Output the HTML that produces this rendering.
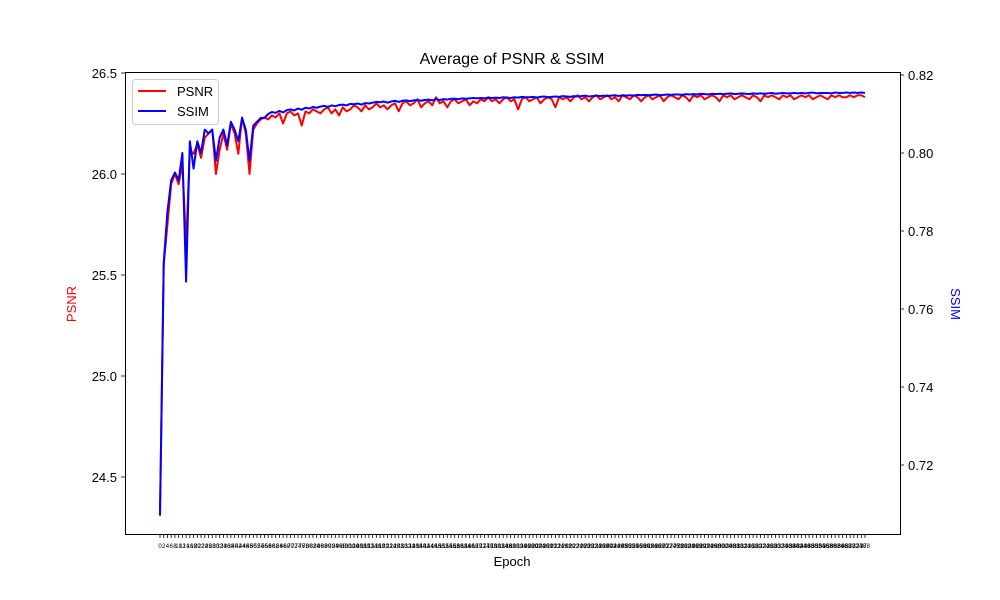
<!DOCTYPE html>
<html><head><meta charset="utf-8">
<style>
html,body{margin:0;padding:0;background:#fff;}
svg{display:block;font-family:"Liberation Sans","DejaVu Sans",sans-serif;}
</style></head>
<body>
<svg id="chart" width="1000" height="600" viewBox="0 0 1000 600">
  <rect x="0" y="0" width="1000" height="600" fill="#fff"/>
  <text x="512" y="64" text-anchor="middle" font-size="16">Average of PSNR &amp; SSIM</text>
  <g id="xticks"></g>
  <g id="yticksL"></g>
  <g id="yticksR"></g>
  <path id="psnrLine" fill="none" stroke="#ff0000" stroke-width="2" stroke-linejoin="round"/>
  <path id="ssimLine" fill="none" stroke="#0000ff" stroke-width="2" stroke-linejoin="round"/>
  <rect x="125.5" y="72.5" width="775" height="462" fill="none" stroke="#000" stroke-width="1"/>
  <text x="512" y="566" text-anchor="middle" font-size="13">Epoch</text>
  <text x="0" y="0" transform="translate(76,304) rotate(-90)" text-anchor="middle" font-size="13" fill="#ff0000">PSNR</text>
  <text x="0" y="0" transform="translate(951,304) rotate(90)" text-anchor="middle" font-size="13" fill="#0000ff">SSIM</text>
  <g>
    <rect x="132.5" y="79.5" width="86" height="45" rx="3" fill="#fff" fill-opacity="0.8" stroke="#cccccc"/>
    <line x1="138" y1="91" x2="166" y2="91" stroke="#ff0000" stroke-width="2"/>
    <text x="177" y="96" font-size="13">PSNR</text>
    <line x1="138" y1="111" x2="166" y2="111" stroke="#0000ff" stroke-width="2"/>
    <text x="177" y="116" font-size="13">SSIM</text>
  </g>
</svg>
<script>
const psnrHead = [24.32,25.55,25.75,25.95,26.0,25.95,26.05,25.65,26.12,26.1,26.15,26.08,26.18,26.2,26.22,26.0,26.12,26.2,26.12,26.25,26.2,26.1,26.28,26.2,26.0,26.22,26.25,26.27,26.28];
const psnrTail = [26.27,26.29,26.28,26.30,26.25,26.30,26.31,26.29,26.30,26.24,
26.31,26.30,26.32,26.31,26.30,26.32,26.33,26.30,26.32,26.29,
26.33,26.31,26.32,26.34,26.33,26.31,26.34,26.32,26.33,26.35,
26.33,26.34,26.32,26.34,26.35,26.31,26.35,26.36,26.34,26.35,
26.37,26.33,26.35,26.36,26.34,26.38,26.35,26.36,26.33,26.36,
26.37,26.35,26.36,26.37,26.34,26.36,26.35,26.37,26.36,26.38,
26.36,26.37,26.35,26.37,26.38,26.36,26.37,26.32,26.37,26.38,
26.36,26.37,26.38,26.35,26.37,26.38,26.37,26.33,26.38,26.37,
26.38,26.36,26.38,26.39,26.37,26.38,26.36,26.38,26.39,26.37,
26.38,26.39,26.37,26.38,26.36,26.39,26.38,26.37,26.39,26.38,
26.36,26.38,26.39,26.37,26.38,26.39,26.36,26.38,26.39,26.38,
26.37,26.39,26.38,26.36,26.39,26.38,26.39,26.37,26.38,26.39,
26.38,26.36,26.39,26.38,26.39,26.37,26.38,26.39,26.38,26.37,
26.39,26.38,26.36,26.39,26.38,26.39,26.38,26.37,26.39,26.38,
26.39,26.37,26.38,26.39,26.38,26.39,26.37,26.38,26.39,26.38,
26.37,26.39,26.38,26.39,26.38,26.38,26.39,26.38,26.39,26.39,26.38];
const ssimHead = [0.707,0.772,0.785,0.793,0.795,0.793,0.800,0.767,0.803,0.796,0.803,0.800,0.806,0.805,0.806,0.798,0.804,0.806,0.802,0.808,0.806,0.803,0.809,0.806,0.798,0.807,0.808,0.809,0.809];
const ssimTail = [.8100,.8105,.8103,.8108,.8104,.8110,.8112,.8109,.8114,.8111,
.8116,.8114,.8118,.8116,.8119,.8121,.8118,.8122,.8120,.8123,
.8124,.8122,.8126,.8125,.8127,.8124,.8128,.8127,.8129,.8131,
.8130,.8132,.8129,.8132,.8134,.8131,.8134,.8135,.8133,.8135,
.8136,.8134,.8136,.8137,.8135,.8138,.8136,.8138,.8137,.8139,
.8139,.8138,.8140,.8139,.8140,.8141,.8140,.8141,.8140,.8142,
.8141,.8142,.8141,.8143,.8142,.8141,.8143,.8142,.8144,.8143,
.8143,.8144,.8142,.8144,.8145,.8143,.8144,.8145,.8144,.8146,
.8145,.8144,.8146,.8145,.8146,.8147,.8145,.8146,.8147,.8146,
.8147,.8146,.8147,.8148,.8146,.8148,.8147,.8148,.8147,.8149,
.8148,.8149,.8148,.8149,.8150,.8148,.8149,.8150,.8149,.8150,
.8150,.8149,.8151,.8150,.8151,.8150,.8152,.8151,.8150,.8152,
.8151,.8152,.8151,.8152,.8153,.8151,.8152,.8153,.8152,.8151,
.8153,.8152,.8153,.8152,.8153,.8154,.8152,.8153,.8154,.8153,
.8153,.8154,.8153,.8154,.8153,.8154,.8155,.8153,.8154,.8154,
.8154,.8153,.8155,.8154,.8154,.8155,.8154,.8155,.8154,.8155,.8154];
const psnrTicks = [24.5,25.0,25.5,26.0,26.5];
const ssimTicks = [0.72,0.74,0.76,0.78,0.80,0.82];

const psnr = psnrHead.concat(psnrTail);
const ssim = ssimHead.concat(ssimTail);
const epochs = psnr.map((_, i) => i * 2);

const NS = 'http://www.w3.org/2000/svg';
const n = psnr.length;
function xPos(i){ return 160 + i * (705 / (n - 1)); }
function yL(v){ return 477 - (v - 24.5) * 202; }
function yR(v){ return 75 + (0.82 - v) * 3900; }

function mk(tag, attrs){ const e = document.createElementNS(NS, tag); for (const k in attrs) e.setAttribute(k, attrs[k]); return e; }

document.getElementById('psnrLine').setAttribute('d', psnr.map((v,i)=>(i?'L':'M')+xPos(i).toFixed(2)+' '+yL(v).toFixed(2)).join(' '));
document.getElementById('ssimLine').setAttribute('d', ssim.map((v,i)=>(i?'L':'M')+xPos(i).toFixed(2)+' '+yR(v).toFixed(2)).join(' '));

const gx = document.getElementById('xticks');
epochs.forEach((ep, i) => {
  const x = xPos(i);
  const t = mk('line', {x1:x, y1:534, x2:x, y2:538, stroke:'#000', 'stroke-width':0.8});
  
  
  gx.appendChild(t);
  const l = mk('text', {x:x, y:548, 'text-anchor':'middle', 'font-size':6});
  
  
  l.textContent = ep;
  gx.appendChild(l);
});

const gl = document.getElementById('yticksL');
psnrTicks.forEach(v => {
  const y = yL(v);
  const t = mk('line', {x1:121, y1:y, x2:125, y2:y, stroke:'#000', 'stroke-width':0.8});
  
  
  gl.appendChild(t);
  const l = mk('text', {x:117, y:y+5, 'text-anchor':'end', 'font-size':13});
  
  
  l.textContent = v.toFixed(1);
  gl.appendChild(l);
});

const gr = document.getElementById('yticksR');
ssimTicks.forEach(v => {
  const y = yR(v);
  const t = mk('line', {x1:900, y1:y, x2:904, y2:y, stroke:'#000', 'stroke-width':0.8});
  
  
  gr.appendChild(t);
  const l = mk('text', {x:908, y:y+5, 'text-anchor':'start', 'font-size':13});
  
  
  l.textContent = v.toFixed(2);
  gr.appendChild(l);
});
</script>
</body></html>
